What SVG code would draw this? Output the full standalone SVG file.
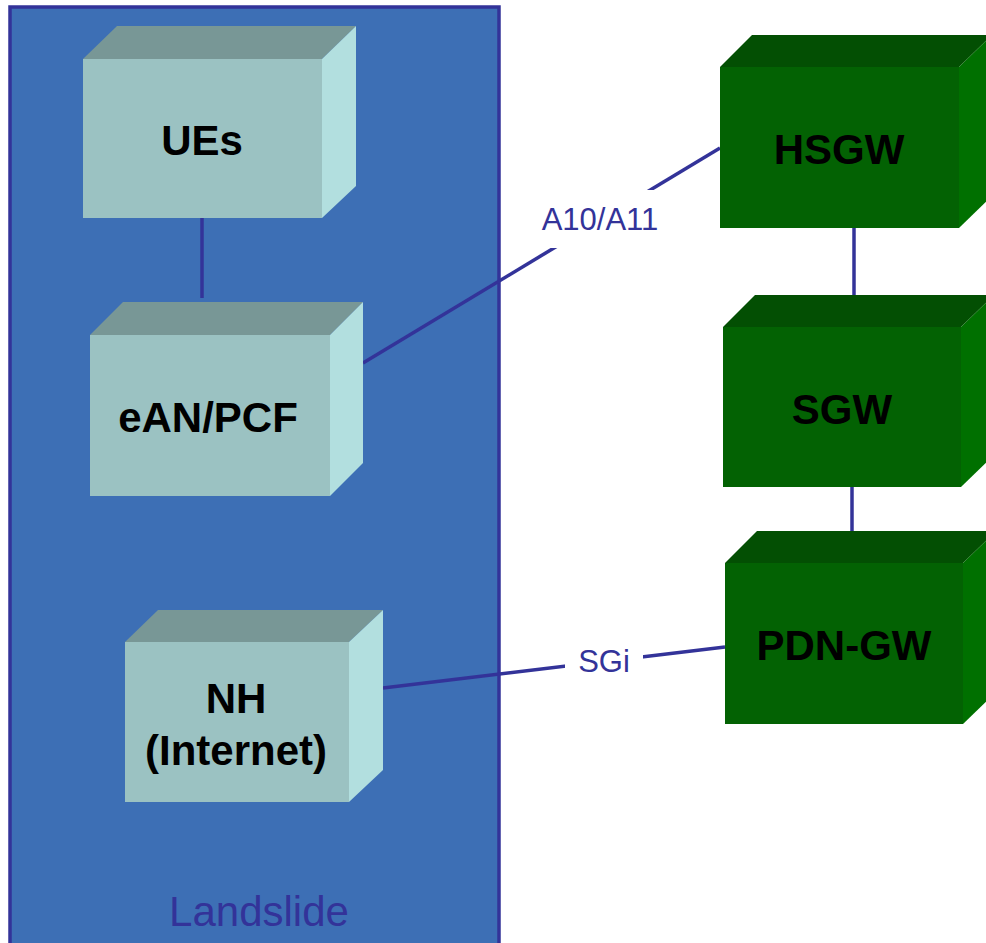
<svg xmlns="http://www.w3.org/2000/svg" width="986" height="943" viewBox="0 0 986 943">
<style>
.bg{fill:#ffffff}
.zone{fill:#3d6fb5;stroke:#333399;stroke-width:3.5}
.tf{fill:#9bc2c2}
.tt{fill:#789796}
.tr{fill:#b2dfdf}
.gf{fill:#036203}
.gt{fill:#034f03}
.gr{fill:#007000}
.lbl{font-family:"Liberation Sans",Arial,sans-serif;font-weight:bold;font-size:42px;fill:#000;text-anchor:middle}
.conn{stroke:#333399;stroke-width:3.5;fill:none}
.clbl{font-family:"Liberation Sans",Arial,sans-serif;font-size:31px;fill:#333399;text-anchor:middle}
.zlbl{font-family:"Liberation Sans",Arial,sans-serif;font-size:42px;fill:#333399;text-anchor:middle}
</style>
<rect class="bg" x="0" y="0" width="986" height="943"/>
<g id="landslide">
<rect class="zone" x="10" y="7" width="489" height="950"/>
<text class="zlbl" x="259" y="926">Landslide</text>
</g>
<g id="connectors">
<line class="conn" x1="202" y1="218" x2="202" y2="298"/>
<line class="conn" x1="363" y1="363" x2="720" y2="148"/>
<line class="conn" x1="854" y1="228" x2="854" y2="296"/>
<line class="conn" x1="852" y1="487" x2="852" y2="531"/>
<line class="conn" x1="383" y1="688" x2="725" y2="647"/>
<rect x="535" y="190" width="130" height="58" fill="#ffffff"/>
<text class="clbl" x="600" y="230">A10/A11</text>
<rect x="565" y="648" width="78" height="30" fill="#ffffff"/>
<text class="clbl" x="604" y="672">SGi</text>
</g>
<g id="ues">
<polygon class="tt" points="83,59 117,26 356,26 322,59"/>
<polygon class="tr" points="322,59 356,26 356,186 322,218"/>
<rect class="tf" x="83" y="59" width="239" height="159"/>
<text class="lbl" x="202" y="155">UEs</text>
</g>
<g id="ean">
<polygon class="tt" points="90,335 123,302 363,302 330,335"/>
<polygon class="tr" points="330,335 363,302 363,463 330,496"/>
<rect class="tf" x="90" y="335" width="240" height="161"/>
<text class="lbl" x="208" y="432">eAN/PCF</text>
</g>
<g id="nh">
<polygon class="tt" points="125,642 158,610 383,610 349,642"/>
<polygon class="tr" points="349,642 383,610 383,770 349,802"/>
<rect class="tf" x="125" y="642" width="224" height="160"/>
<text class="lbl" x="236" y="713">NH</text>
<text class="lbl" x="236" y="765">(Internet)</text>
</g>
<g id="hsgw">
<polygon class="gt" points="720,67 752,35 992,35 959,67"/>
<polygon class="gr" points="959,67 992,35 992,196 959,228"/>
<rect class="gf" x="720" y="67" width="239" height="161"/>
<text class="lbl" x="839" y="164">HSGW</text>
</g>
<g id="sgw">
<polygon class="gt" points="723,327 755,295 994,295 961,327"/>
<polygon class="gr" points="961,327 994,295 994,455 961,487"/>
<rect class="gf" x="723" y="327" width="238" height="160"/>
<text class="lbl" x="842" y="424">SGW</text>
</g>
<g id="pdngw">
<polygon class="gt" points="725,563 757,531 996,531 963,563"/>
<polygon class="gr" points="963,563 996,531 996,692 963,724"/>
<rect class="gf" x="725" y="563" width="238" height="161"/>
<text class="lbl" x="844" y="660">PDN-GW</text>
</g>
</svg>
